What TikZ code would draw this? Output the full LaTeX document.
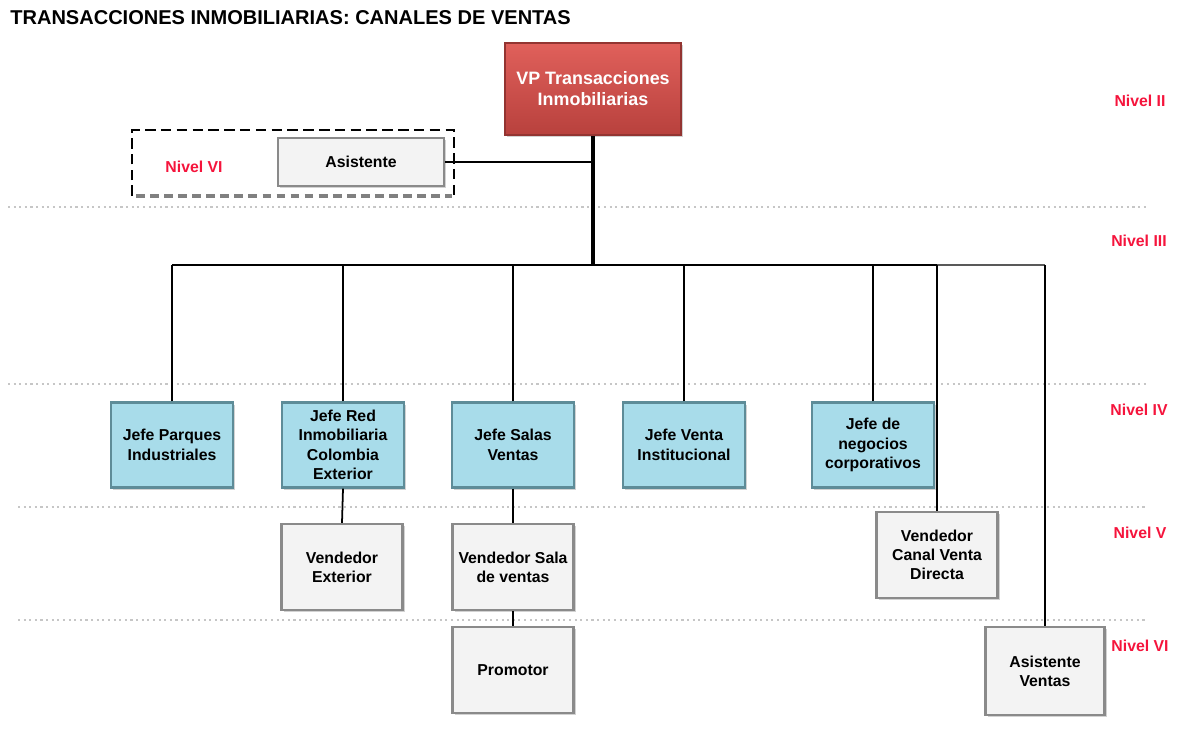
\documentclass[tikz,border=0pt]{standalone}
\usepackage{fontspec}
\setmainfont{Liberation Sans}
\usetikzlibrary{positioning,shadows}
\definecolor{vptop}{HTML}{E0605B}
\definecolor{vpbot}{HTML}{B8413D}
\definecolor{jefefill}{HTML}{A8DCEA}
\definecolor{jefeline}{HTML}{5E8C98}
\definecolor{vendfill}{HTML}{F3F3F3}
\definecolor{vendline}{HTML}{8A8A8A}
\definecolor{nivelred}{HTML}{F5143C}
\tikzset{
  caja/.style={align=center, font=\fontsize{9}{11}\selectfont\bfseries, inner sep=1pt,
    drop shadow={shadow xshift=1.2pt, shadow yshift=-1.2pt, fill=black!35}},
  vpbox/.style={caja, draw=vpbot!80!black, line width=1pt, top color=vptop, bottom color=vpbot,
    text=white, font=\fontsize{10.2}{12}\selectfont\bfseries, minimum width=3.52cm, minimum height=1.84cm},
  jefe/.style={caja, draw=jefeline, line width=1.2pt, fill=jefefill, minimum width=2.44cm, minimum height=1.7cm},
  vend/.style={caja, draw=vendline, line width=1.2pt, fill=vendfill, minimum width=2.42cm, minimum height=1.72cm},
  nivel/.style={text=nivelred, font=\fontsize{9}{11}\selectfont\bfseries},
  linea/.style={line width=1pt},
  nivelsep/.style={gray!45, dotted, line width=1.2pt}
}
\begin{document}
\begin{tikzpicture}[x=0.02cm, y=-0.02cm]
\useasboundingbox (0,0) rectangle (1183,748);

% titulo
\node[anchor=west, inner sep=0pt, font=\fontsize{11.4}{13}\selectfont\bfseries] (titulo) at (10,18)
  {TRANSACCIONES INMOBILIARIAS: CANALES DE VENTAS};

% separadores de nivel
\draw[nivelsep] (8,207) -- (1148,207);
\draw[nivelsep] (8,384) -- (1148,384);
\draw[nivelsep] (18,507) -- (1148,507);
\draw[nivelsep] (18,620) -- (1148,620);

% niveles
\node[nivel] (n2) at (1140,101) {Nivel II};
\node[nivel] (n3) at (1139,241) {Nivel III};
\node[nivel] (n4) at (1139,410) {Nivel IV};
\node[nivel] (n5) at (1140,533) {Nivel V};
\node[nivel] (n6) at (1140,646) {Nivel VI};

% Nivel II
\node[vpbox] (vp) at (593,89) {VP Transacciones\\Inmobiliarias};

% asistente
\draw[dash pattern=on 6pt off 3pt, line width=1.3pt] (132,196) -- (132,130) -- (454,130) -- (454,196);
\draw[dash pattern=on 5pt off 3pt, line width=2.2pt, gray] (136,196) -- (452,196);
\node[nivel] (n6a) at (194,167) {Nivel VI};
\node[vend, minimum width=3.32cm, minimum height=0.96cm] (asis) at (361,162) {Asistente};

% Nivel IV
\node[jefe] (jp) at (172,445) {Jefe Parques\\Industriales};
\node[jefe] (jr) at (343,445) {Jefe Red\\Inmobiliaria\\Colombia\\Exterior};
\node[jefe] (js) at (513,445) {Jefe Salas\\Ventas};
\node[jefe] (jv) at (684,445) {Jefe Venta\\Institucional};
\node[jefe] (jn) at (873,445) {Jefe de\\negocios\\corporativos};

% Nivel V
\node[vend] (ve) at (342,567) {Vendedor\\Exterior};
\node[vend] (vs) at (513,567) {Vendedor Sala\\de ventas};
\node[vend] (vc) at (937,555) {Vendedor\\Canal Venta\\Directa};

% Nivel VI
\node[vend] (pro) at (513,670) {Promotor};
\node[vend, minimum width=2.38cm, minimum height=1.76cm] (asv) at (1045,671) {Asistente\\Ventas};

% conexiones
\coordinate (bus) at (593,265);
\draw[line width=1.8pt] (vp.south) -- (bus);
\draw[line width=1.2pt] (asis.east) -- (asis.east -| vp.south);
\draw[linea] (jp.north |- bus) -- (vc.north |- bus);
\draw[linea, gray!70!black] (vc.north |- bus) -- (asv.north |- bus);
\draw[linea] (jp.north) -- (jp.north |- bus);
\draw[linea] (jr.north) -- (jr.north |- bus);
\draw[linea] (js.north) -- (js.north |- bus);
\draw[linea] (jv.north) -- (jv.north |- bus);
\draw[linea] (jn.north) -- (jn.north |- bus);
\draw[linea] (vc.north) -- (vc.north |- bus);
\draw[linea] (asv.north) -- (asv.north |- bus);
\draw[linea] (jr.south) -- (ve.north);
\draw[linea] (js.south) -- (vs.north);
\draw[linea] (vs.south) -- (pro.north);
\end{tikzpicture}
\end{document}
